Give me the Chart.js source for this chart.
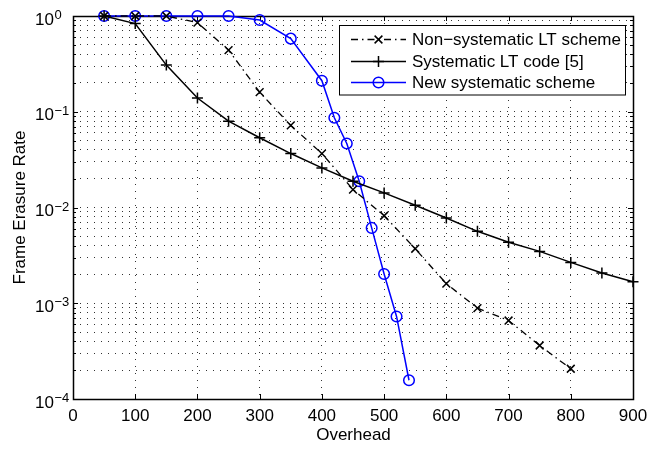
<!DOCTYPE html>
<html><head><meta charset="utf-8">
<script src="https://cdn.jsdelivr.net/npm/chart.js@4/dist/chart.umd.min.js"></script>
<style>html,body{margin:0;padding:0;background:#fff}canvas{display:block}</style>
</head><body>
<canvas id="c" width="667" height="450"></canvas>
<script>
// ---- data ----
const nonSysOverhead = [50,100,150,200,250,300,350,400,450,500,550,600,650,700,750,800];
const nonSysFER      = [1,1,1,0.853,0.441,0.160,0.072,0.0366,0.0154,0.0082,0.00371,0.0016,0.00089,0.00066,0.000362,0.000207];

const sysOverhead = [50,100,150,200,250,300,350,400,450,500,550,600,650,700,750,800,850,900];
const sysFER      = [1,0.833,0.307,0.139,0.0797,0.0535,0.0366,0.0259,0.0188,0.0142,0.01055,0.00778,0.00564,0.00433,0.00348,0.00267,0.00207,0.00168];

const newOverhead = [50,100,150,200,250,300,350,400,420,440,460,480,500,520,540];
const newFER      = [1,1,1,1,1,0.908,0.58,0.211,0.0865,0.0466,0.0188,0.00612,0.00202,0.000728,0.000157];

const seriesNames = ['Non\u2212systematic LT scheme','Systematic LT code [5]','New systematic scheme'];
const xTicks = [0,100,200,300,400,500,600,700,800,900];
const yDecades = [-4,-3,-2,-1,0];
const xTitle = 'Overhead';
const yTitle = 'Frame Erasure Rate';

const FONT = '"Liberation Sans", Arial, Helvetica, sans-serif';
const pts = (xs, ys) => xs.map((x,i)=>({x, y: ys[i]}));

// all log grid values 1..9 x 10^k
const yGridVals = [];
for (let k=-4;k<0;k++){ for(let m=1;m<10;m++) yGridVals.push(m*Math.pow(10,k)); }
yGridVals.push(1);

const datasets = [
  {label: seriesNames[0], data: pts(nonSysOverhead, nonSysFER), borderColor:'#000', borderWidth:1.3,
   borderDash:[7,4,1.5,4], pointStyle:'crossRot', pointRadius:5.5, pointBorderWidth:1.5,
   pointBorderColor:'#000', pointBackgroundColor:'rgba(0,0,0,0)'},
  {label: seriesNames[1], data: pts(sysOverhead, sysFER), borderColor:'#000', borderWidth:1.5,
   pointStyle:'cross', pointRadius:5.5, pointBorderWidth:1.5,
   pointBorderColor:'#000', pointBackgroundColor:'rgba(0,0,0,0)'},
  {label: seriesNames[2], data: pts(newOverhead, newFER), borderColor:'#0000ff', borderWidth:1.5,
   pointStyle:'circle', pointRadius:5.3, pointBorderWidth:1.5,
   pointBorderColor:'#0000ff', pointBackgroundColor:'rgba(0,0,0,0)'}
].map(d=>Object.assign(d,{showLine:true, fill:false, tension:0, clip:false, pointHoverRadius:d.pointRadius}));

const frame = {
  id:'frame',
  beforeDatasetsDraw(chart){
    const {ctx, chartArea:a, scales:{x,y}} = chart;
    ctx.save();
    ctx.strokeStyle='#000'; ctx.lineWidth=1;
    ctx.beginPath();
    xTicks.forEach(v=>{
      const px = Math.round(x.getPixelForValue(v))+0.5;
      ctx.moveTo(px, a.bottom); ctx.lineTo(px, a.bottom-5);
      ctx.moveTo(px, a.top); ctx.lineTo(px, a.top+5);
    });
    yGridVals.forEach(v=>{
      const py = Math.round(y.getPixelForValue(v))+0.5;
      const major = Math.abs(Math.log10(v)-Math.round(Math.log10(v)))<1e-9;
      const L = major?5:3;
      ctx.moveTo(a.left, py); ctx.lineTo(a.left+L, py);
      ctx.moveTo(a.right, py); ctx.lineTo(a.right-L, py);
    });
    ctx.stroke();
    ctx.lineWidth=1.5;
    ctx.strokeRect(Math.round(a.left)+0.5, Math.round(a.top)+0.5, Math.round(a.right-a.left), Math.round(a.bottom-a.top));
    ctx.restore();
  },
  afterDatasetsDraw(chart){
    const {ctx, scales:{y}} = chart;
    ctx.save();
    ctx.fillStyle='#000';
    yDecades.forEach(k=>{
      const py = y.getPixelForValue(Math.pow(10,k));
      ctx.font = '17px '+FONT; ctx.textAlign='right'; ctx.textBaseline='alphabetic';
      ctx.fillText('10', 54, py+8.5);
      ctx.font = '13px '+FONT; ctx.textAlign='left';
      ctx.fillText(k===0?'0':'\u2212'+(-k), 54.5, py+3);
    });
    ctx.font = '17px '+FONT; ctx.textAlign='center'; ctx.textBaseline='alphabetic';
    ctx.fillText(xTitle, 353.5, 440);
    ctx.save(); ctx.translate(25, 207.5); ctx.rotate(-Math.PI/2);
    ctx.fillText(yTitle, 0, 0); ctx.restore();
    // legend
    const bx=339.5, by=25.5, bw=286, bh=69.5;
    ctx.fillStyle='#fff'; ctx.fillRect(bx,by,bw,bh);
    ctx.strokeStyle='#000'; ctx.lineWidth=1; ctx.strokeRect(bx,by,bw,bh);
    const rows=[39.5,61.5,82.5];
    chart.data.datasets.forEach((d,i)=>{
      const yy=rows[i];
      ctx.save();
      ctx.strokeStyle=d.borderColor; ctx.lineWidth=d.borderWidth;
      ctx.setLineDash(d.borderDash||[]);
      ctx.beginPath(); ctx.moveTo(351,yy); ctx.lineTo(406,yy); ctx.stroke();
      ctx.restore();
      ctx.save();
      ctx.strokeStyle=d.pointBorderColor; ctx.fillStyle='rgba(0,0,0,0)';
      ctx.lineWidth=d.pointBorderWidth; ctx.setLineDash([]);
      Chart.helpers.drawPoint(ctx,{pointStyle:d.pointStyle, radius:d.pointRadius, rotation:0, borderWidth:d.pointBorderWidth}, 378.5, yy);
      ctx.restore();
      ctx.fillStyle='#000'; ctx.font='17px '+FONT; ctx.textAlign='left'; ctx.textBaseline='middle';
      ctx.fillText(d.label, 412, yy+1);
    });
    ctx.restore();
  }
};

new Chart(document.getElementById('c'), {
  type:'scatter',
  data:{datasets},
  plugins:[frame],
  options:{
    responsive:false, animation:false, devicePixelRatio:1,
    layout:{padding:{top:16, right:34, left:0, bottom:0}},
    plugins:{legend:{display:false}, tooltip:{enabled:false}},
    scales:{
      x:{type:'linear', min:0, max:900,
         afterBuildTicks:s=>{s.ticks = xTicks.map(v=>({value:v}));},
         afterFit:s=>{s.height=51;},
         grid:{color:'rgba(0,0,0,0.8)', lineWidth:1, drawTicks:false},
         border:{display:false, dash:[1,6]},
         ticks:{color:'#000', font:{family:FONT, size:17}, padding:7, maxRotation:0, autoSkip:false}},
      y:{type:'logarithmic', min:1e-4, max:1,
         afterBuildTicks:s=>{s.ticks = yGridVals.map(v=>({value:v}));},
         afterFit:s=>{s.width=73;},
         grid:{color:'rgba(0,0,0,0.8)', lineWidth:1, drawTicks:false},
         border:{display:false, dash:[1,6]},
         ticks:{display:false}}
    }
  }
});
</script>
</body></html>
